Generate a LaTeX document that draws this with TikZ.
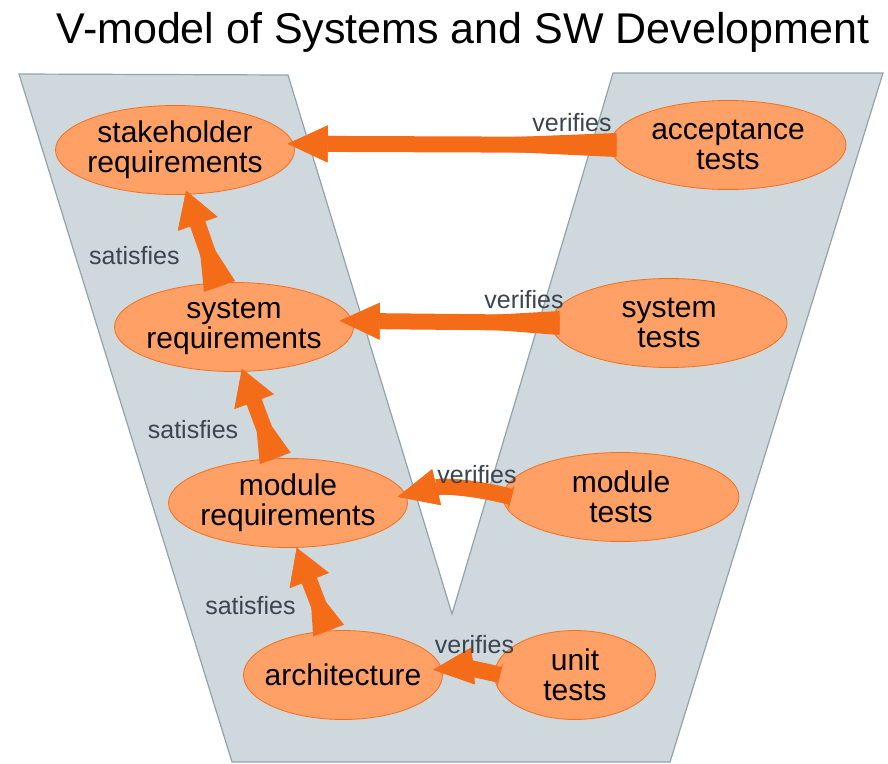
\documentclass[tikz,border=0pt]{standalone}
\usepackage{fontspec}
\setmainfont{Liberation Sans}
\usepackage{tikz}
\usetikzlibrary{positioning}
\usetikzlibrary{arrows.meta}
\usetikzlibrary{shapes,calc}
\definecolor{vgray}{HTML}{CFD8DC}
\definecolor{vedge}{HTML}{90A4AE}
\definecolor{ovalfill}{HTML}{FFA066}
\definecolor{ovaledge}{HTML}{F36F1E}
\definecolor{arrowor}{HTML}{F46C18}
\definecolor{labelgray}{HTML}{3A454D}
\tikzset{main node/.style={ellipse,fill=ovalfill,draw=ovaledge,line width=0.8pt,minimum width=239pt,minimum height=89pt,inner xsep=-8pt,inner ysep=0pt,align=center,font=\fontsize{30}{30}\selectfont},
  rel label/.style={text=labelgray,inner sep=0pt,font=\fontsize{25}{25}\selectfont},
  verifies head/.style={-{Triangle[length=40pt,width=37pt,line width=0pt 0 0]}},
  satisfies head/.style={-{Triangle[length=35pt,width=42pt,line width=0pt 0 0]}},
  verifies arrow/.style={draw=arrowor,line width=16pt,preaction={draw=arrowor,line width=16pt,verifies head},{Triangle[reversed,length=#1,width=24pt,line width=0pt 0 0]}-{Triangle[length=40pt,width=37pt,line width=0pt 0 0]}},
  satisfies arrow/.style={draw=arrowor,line width=16pt,preaction={draw=arrowor,line width=16pt,satisfies head},{Triangle[reversed,length=#1,width=33pt,line width=0pt 0 0]}-{Triangle[length=35pt,width=42pt,line width=0pt 0 0]}},
}

\begin{document}
\begin{tikzpicture}[x=1pt,y=-1pt,on grid]
    \useasboundingbox (0,0) rectangle (888,763);
    % the V
    \draw[vedge,fill=vgray,line width=1.2pt] (19,74) -- (288,75) -- (452,614) -- (613,73) -- (883,73) -- (670,762) -- (232,762) -- cycle;
    \node[font=\fontsize{43}{43}\selectfont,anchor=base] (title) at (463,43) {V-model of Systems and SW Development};

    \node[main node] (sr) at (175,150) {stakeholder\\requirements};
    \node[main node] (syr) [below right=177pt and 59pt of sr] {system\\requirements};
    \node[main node] (mr) [below right=176pt and 54pt of syr] {module\\requirements};
    \node[main node,minimum width=199pt] (ar) [below right=172pt and 55pt of mr] {architecture};
    \node[main node,minimum width=236pt] (at) [above right=5pt and 553pt of sr] {acceptance\\tests};
    \node[main node,minimum width=236pt] (st) [above right=4pt and 435pt of syr] {system\\tests};
    \node[main node,minimum width=236pt] (mt) [above right=6pt and 333pt of mr] {module\\tests};
    \node[main node,minimum width=161pt] (ut) [right=232pt of ar] {unit\\tests};

    \path
    ([xshift=7pt]at.west) edge[verifies arrow=280pt] node[rel label,pos=0,anchor=base east,xshift=3pt,yshift=14pt] {verifies} ([xshift=-6pt]sr.3)
    ([xshift=9pt]st.west) edge[verifies arrow=180pt] node[rel label,pos=0,anchor=base east,xshift=12pt,yshift=15pt] {verifies} ([xshift=-13pt]syr.3)
    ([xshift=9pt]mt.west) edge[verifies arrow=6pt,bend right=14] node[rel label,pos=0,anchor=base east,xshift=13pt,yshift=14pt] {verifies} ([xshift=-9pt]mr.3)
    ([xshift=6pt]ut.west) edge[verifies arrow=4pt,bend right=10] node[rel label,pos=0,anchor=base east,xshift=22pt,yshift=22pt] {verifies} ([xshift=-9pt]ar.3)
    ([yshift=-4pt]syr.108) edge[satisfies arrow=68pt] node[rel label,pos=0,anchor=base east,xshift=-32pt,yshift=22pt] {satisfies} ([yshift=4pt]sr.-76)
    (mr.106) edge[satisfies arrow=61pt] node[rel label,pos=0,anchor=base east,xshift=-29pt,yshift=20pt] {satisfies} ([yshift=3pt]syr.-80)
    (ar.108) edge[satisfies arrow=53pt] node[rel label,pos=0,anchor=base east,xshift=-25pt,yshift=16pt] {satisfies} (mr.-79);
\end{tikzpicture}
\end{document}
